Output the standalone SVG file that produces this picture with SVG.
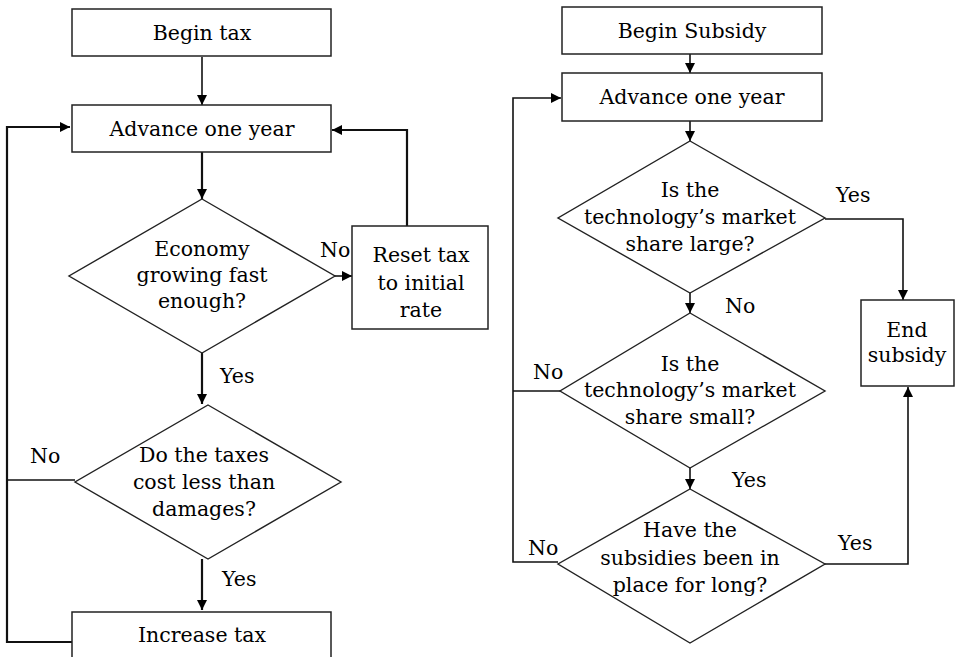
<svg xmlns="http://www.w3.org/2000/svg" width="956" height="657" viewBox="0 0 956 657">
<style>
.box{fill:#fff;stroke:#222;stroke-width:1.5}
.dia{fill:#fff;stroke:#222;stroke-width:1.4}
.ln{fill:none;stroke:#111;stroke-width:1.6}
.th{stroke-width:2.2}
text{font-family:"DejaVu Serif","Liberation Serif",serif;font-size:20.5px;fill:#000}
.c{text-anchor:middle}
</style>
<defs>
<marker id="ah" markerWidth="11" markerHeight="10" refX="10" refY="5" orient="auto" markerUnits="userSpaceOnUse">
<path d="M0,0 L10,5 L0,10 Z" fill="#000"/>
</marker>
</defs>
<rect width="956" height="657" fill="#fff"/>
<g id="connectors">
<path class="ln" d="M202,57 V105" marker-end="url(#ah)"/>
<path class="ln th" d="M202,152 V199" marker-end="url(#ah)"/>
<path class="ln" d="M335,276 H352" marker-end="url(#ah)"/>
<path class="ln th" d="M407,226 V130 H332" marker-end="url(#ah)"/>
<path class="ln th" d="M202,353 V404" marker-end="url(#ah)"/>
<path class="ln th" d="M202,559 V610" marker-end="url(#ah)"/>
<path class="ln" d="M75,480 H7"/>
<path class="ln th" d="M72,642 H7 V127 H70" marker-end="url(#ah)"/>
<path class="ln" d="M690,54 V73" marker-end="url(#ah)"/>
<path class="ln" d="M690,121 V141" marker-end="url(#ah)"/>
<path class="ln" d="M825,219 H903 V300" marker-end="url(#ah)"/>
<path class="ln" d="M690,293 V313" marker-end="url(#ah)"/>
<path class="ln" d="M560,391 H513"/>
<path class="ln" d="M690,468 V489" marker-end="url(#ah)"/>
<path class="ln" d="M558,562 H513 V98 H561" marker-end="url(#ah)"/>
<path class="ln" d="M825,564 H908 V387" marker-end="url(#ah)"/>
</g>
<g id="begin-tax"><rect class="box" x="72" y="9" width="259" height="47"/><text class="c" x="202" y="40">Begin tax</text></g>
<g id="advance-tax"><rect class="box" x="72" y="105" width="259" height="47"/><text class="c" x="202" y="136">Advance one year</text></g>
<g id="economy"><polygon class="dia" points="202,199 335,276 202,353 69,276"/>
<text class="c" x="202" y="256">Economy</text><text class="c" x="202" y="282">growing fast</text><text class="c" x="202" y="308">enough?</text></g>
<g id="reset"><rect class="box" x="352" y="226" width="136" height="103"/>
<text class="c" x="421" y="262">Reset tax</text><text class="c" x="421" y="290">to initial</text><text class="c" x="421" y="317">rate</text></g>
<g id="taxes-cost"><polygon class="dia" points="208,405 341,482 208,559 75,482"/>
<text class="c" x="204" y="462">Do the taxes</text><text class="c" x="204" y="489">cost less than</text><text class="c" x="204" y="516">damages?</text></g>
<g id="increase"><rect class="box" x="72" y="612" width="259" height="60"/><text class="c" x="202" y="642">Increase tax</text></g>
<g id="labels-left">
<text x="320" y="257">No</text>
<text x="220" y="383">Yes</text>
<text x="30" y="463">No</text>
<text x="222" y="586">Yes</text>
</g>
<g id="begin-subsidy"><rect class="box" x="562" y="7" width="260" height="47"/><text class="c" x="692" y="38">Begin Subsidy</text></g>
<g id="advance-sub"><rect class="box" x="562" y="73" width="260" height="48"/><text class="c" x="692" y="104">Advance one year</text></g>
<g id="share-large"><polygon class="dia" points="690,141 825,218 690,293 558,218"/>
<text class="c" x="690" y="197">Is the</text><text class="c" x="690" y="224">technology’s market</text><text class="c" x="690" y="251">share large?</text></g>
<g id="share-small"><polygon class="dia" points="690,313 825,391 690,468 560,391"/>
<text class="c" x="690" y="371">Is the</text><text class="c" x="690" y="397">technology’s market</text><text class="c" x="690" y="424">share small?</text></g>
<g id="long"><polygon class="dia" points="690,489 825,564 690,643 558,564"/>
<text class="c" x="690" y="537">Have the</text><text class="c" x="690" y="565">subsidies been in</text><text class="c" x="690" y="592">place for long?</text></g>
<g id="end-subsidy"><rect class="box" x="861" y="300" width="93" height="86"/>
<text class="c" x="907" y="337">End</text><text class="c" x="907" y="362">subsidy</text></g>
<g id="labels-right">
<text x="836" y="202">Yes</text>
<text x="725" y="313">No</text>
<text x="533" y="379">No</text>
<text x="732" y="487">Yes</text>
<text x="528" y="555">No</text>
<text x="838" y="550">Yes</text>
</g>
</svg>
